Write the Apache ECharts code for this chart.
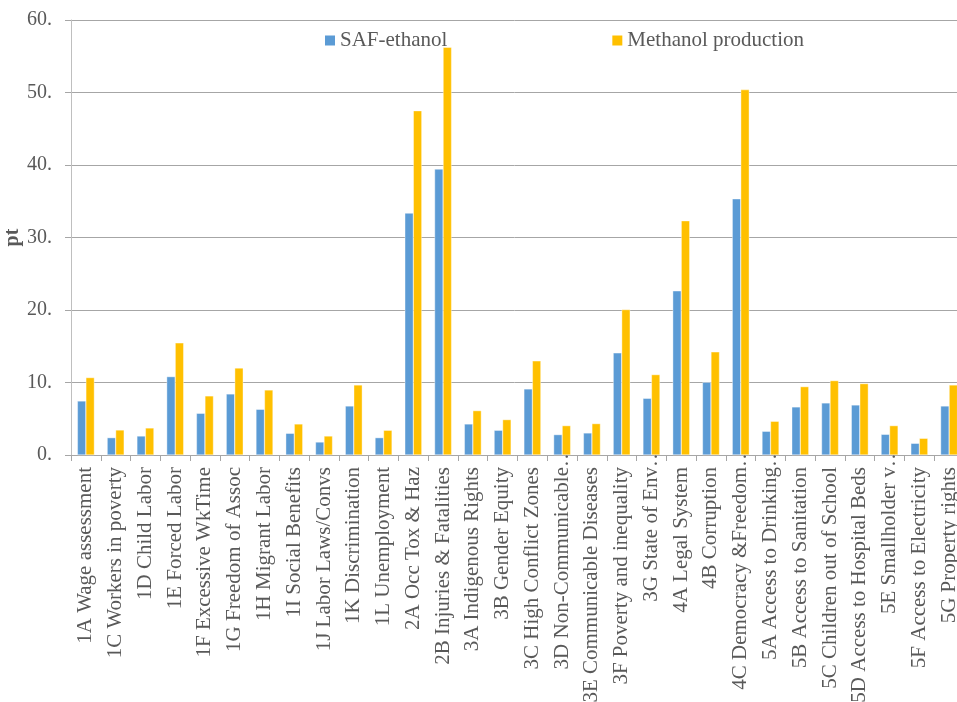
<!DOCTYPE html>
<html><head><meta charset="utf-8">
<script src="https://cdn.jsdelivr.net/npm/echarts@6/dist/echarts.min.js"></script>
<style>html,body{margin:0;padding:0;background:#fff}#c{width:957px;height:702px}</style>
</head><body><div id="c"></div>
<script>
const categories = ["1A Wage assessment","1C Workers in poverty","1D Child Labor","1E Forced Labor","1F Excessive WkTime","1G Freedom of Assoc","1H Migrant Labor","1I Social Benefits","1J Labor Laws/Convs","1K Discrimination","1L Unemployment","2A Occ Tox & Haz","2B Injuries & Fatalities","3A Indigenous Rights","3B Gender Equity","3C High Conflict Zones","3D Non-Communicable…","3E Communicable Diseases","3F Poverty and inequality","3G State of Env…","4A Legal System","4B Corruption","4C Democracy &Freedom…","5A Access to Drinking…","5B Access to Sanitation","5C Children out of School","5D Access to Hospital Beds","5E Smallholder v…","5F Access to Electricity","5G Property rights"];
const safEthanol = [7.45,2.39,2.62,10.81,5.75,8.42,6.30,2.99,1.79,6.76,2.39,33.36,39.44,4.28,3.41,9.11,2.81,3.04,14.08,7.82,22.64,10.03,35.34,3.27,6.63,7.18,6.90,2.85,1.61,6.76];
const methanol = [10.68,3.45,3.73,15.46,8.15,12.01,8.97,4.28,2.62,9.66,3.41,47.49,56.24,6.12,4.88,12.98,4.05,4.33,20.06,11.09,32.31,14.22,50.39,4.65,9.43,10.26,9.85,4.05,2.30,9.66];
const seriesNames = ["SAF-ethanol","Methanol production"];
const yTicks = {min:0, max:60, interval:10};

const font = '"Liberation Serif","Times New Roman",serif';
const chart = echarts.init(document.getElementById('c'), null, {renderer:'canvas'});
chart.setOption({
  animation:false,
  textStyle:{fontFamily:font},
  legend:{
    left:325, top:30, padding:0, itemWidth:10, itemHeight:10, itemGap:165,
    icon:'path://M0,0L10,0L10,10L0,10Z',
    itemStyle:{borderWidth:0},
    textStyle:{fontFamily:font, fontSize:21, color:'#595959'},
    data:seriesNames
  },
  grid:{left:71, top:20, width:893, height:435, containLabel:false, outerBoundsMode:'none'},
  xAxis:{
    type:'category', data:categories,
    axisLine:{lineStyle:{color:'#a6a6a6', width:1}},
    axisTick:{show:true, length:6, lineStyle:{color:'#a6a6a6'}},
    axisLabel:{rotate:90, interval:0, fontFamily:font, fontSize:21, color:'#595959', margin:-9,
      formatter: v => v.endsWith('…') ? v : v + '{s|\u00a0}',
      rich:{s:{width:21, fontSize:21, fontFamily:font}}
    }
  },
  yAxis:{
    type:'value', min:yTicks.min, max:yTicks.max, interval:yTicks.interval,
    name:'pt', nameLocation:'middle', nameGap:48, nameRotate:90, nameMoveOverlap:false,
    nameTextStyle:{fontFamily:font, fontSize:20, fontWeight:'bold', color:'#595959'},
    axisLine:{show:true, lineStyle:{color:'#bfbfbf'}},
    axisTick:{show:true, length:6, lineStyle:{color:'#a6a6a6'}},
    splitLine:{lineStyle:{color:'#a6a6a6', width:1}},
    axisLabel:{fontFamily:font, fontSize:20, color:'#595959', margin:19,
      formatter:v=>v+'.'}
  },
  series:[
    {name:seriesNames[0], type:'bar', data:safEthanol, barWidth:8.5, barGap:'0%',
     itemStyle:{color:'#5B9BD5', borderColor:'#ffffff', borderWidth:0.4}},
    {name:seriesNames[1], type:'bar', data:methanol, barWidth:8.5, barGap:'0%',
     itemStyle:{color:'#FFC000', borderColor:'#ffffff', borderWidth:0.4}}
  ]
});
</script></body></html>
